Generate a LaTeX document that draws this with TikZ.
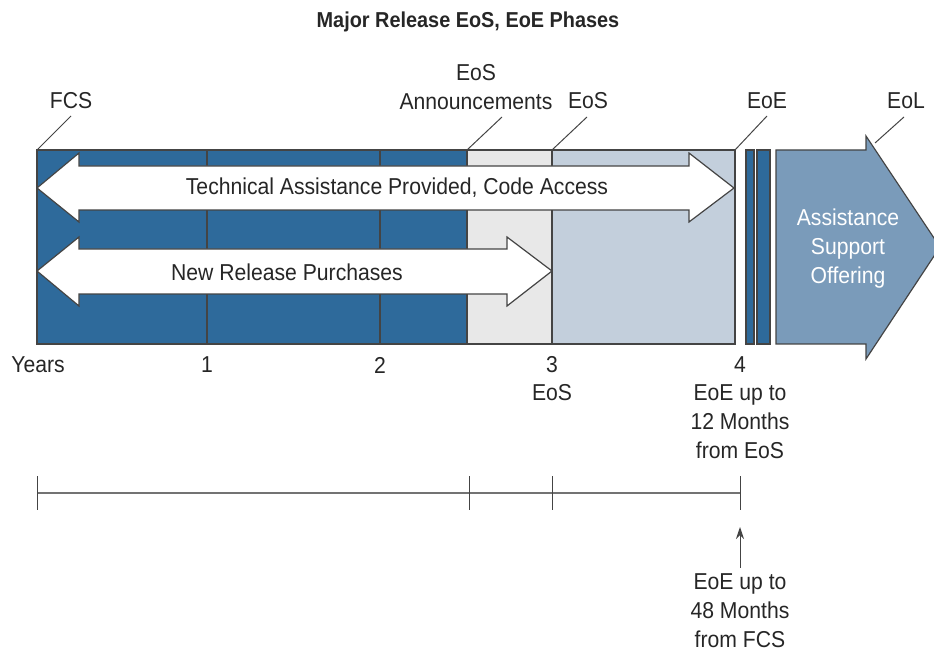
\documentclass[tikz,border=0pt]{standalone}
\usepackage{fontspec}
\setmainfont[FakeStretch=0.92]{Liberation Sans}
\usetikzlibrary{arrows.meta}
\definecolor{phaseblue}{RGB}{46,106,155}
\definecolor{phasegray}{RGB}{232,232,232}
\definecolor{phaselight}{RGB}{195,207,220}
\definecolor{phaseoffer}{RGB}{122,155,186}
\definecolor{linegray}{RGB}{68,68,68}
\newcommand{\lblfont}{\fontsize{11.5}{14.5}\selectfont}
\begin{document}
\begin{tikzpicture}[x=0.5pt,y=-0.5pt]
    \tikzstyle{every node}+=[inner sep=0pt, font=\lblfont, text=black!85]
    \tikzstyle{edge}=[draw=linegray, line width=0.6pt]
    \tikzstyle{lead}=[draw=linegray, line width=0.5pt]
    \useasboundingbox (0,0) rectangle (934,652);
    \clip (0,0) rectangle (934,652);
    \node [font=\fontsize{10.8}{13}\selectfont\bfseries] (title) at (468,22) {Major Release EoS, EoE Phases};
    % phases
    \draw [edge, fill=phaseblue] (37,150) rectangle (467,344);
    \draw [edge] (207,150) -- (207,344);
    \draw [edge] (380,150) -- (380,344);
    \draw [edge, fill=phasegray] (467,150) rectangle (552,344);
    \draw [edge, fill=phaselight] (552,150) rectangle (735,344);
    \draw [edge, fill=phaseblue] (746,150) rectangle (754,344);
    \draw [edge, fill=phaseblue] (757,150) rectangle (770,344);
    \draw [edge, fill=phaseoffer] (776,150) -- (866,150) -- (866,136) -- (940,247) -- (866,359) -- (866,344) -- (776,344) -- cycle;
    \node [text=white, align=center] (offer) at (848,249) {Assistance\\Support\\Offering};
    % double arrows
    \draw [edge, fill=white] (37,188) -- (79,153) -- (79,166) -- (689,166) -- (689,153) -- (734,188) -- (689,222) -- (689,210) -- (79,210) -- (79,222) -- cycle;
    \node (tac) at (397,188) {Technical Assistance Provided, Code Access};
    \draw [edge, fill=white] (37,271) -- (79,237) -- (79,249) -- (507,249) -- (507,237) -- (552,271) -- (507,306) -- (507,294) -- (79,294) -- (79,306) -- cycle;
    \node (nrp) at (287,272) {New Release Purchases};
    % milestones on top
    \coordinate (fcs) at (37,150);
    \coordinate (eosa) at (467,150);
    \coordinate (eos) at (552,150);
    \coordinate (eoe) at (735,150);
    \coordinate (eol) at (875,143);
    \node (fcslbl) at (71,101) {FCS};
    \node [align=center] (eosalbl) at (476,87) {EoS\\Announcements};
    \node (eoslbl) at (588,101) {EoS};
    \node (eoelbl) at (767,101) {EoE};
    \node (eollbl) at (906,101) {EoL};
    \draw [lead] (fcs) -- (71,116);
    \draw [lead] (eosa) -- (502,117);
    \draw [lead] (eos) -- (587,117);
    \draw [lead] (eoe) -- (767,116);
    \draw [lead] (eol) -- (904,117);
    % years
    \node (years) at (38,365) {Years};
    \node (y1) at (207,365) {1};
    \node (y2) at (380,365) {2};
    \node (y3) at (552,365) {3};
    \node (y4) at (740,365) {4};
    \node (y3eos) at (552,393) {EoS};
    \node [align=center] (eoe12) at (740,422) {EoE up to\\12 Months\\from EoS};
    % timeline
    \coordinate (t0) at (37,493);
    \coordinate (ta) at (469,493);
    \coordinate (tb) at (552,493);
    \coordinate (t4) at (740,493);
    \draw [lead, line width=0.9pt, draw=black!55] (t0) -- (t4);
    \foreach \t in {t0,ta,tb,t4}
        \draw [lead] ([yshift=-8.5pt]\t) -- ([yshift=8.5pt]\t);
    \node [align=center] (eoe48) at (740,611) {EoE up to\\48 Months\\from FCS};
    \coordinate (t4up) at (740,527);
    \draw [lead, -{Stealth[length=6pt,width=4pt]}] ([yshift=3pt]eoe48.north) -- (t4up);
\end{tikzpicture}
\end{document}
